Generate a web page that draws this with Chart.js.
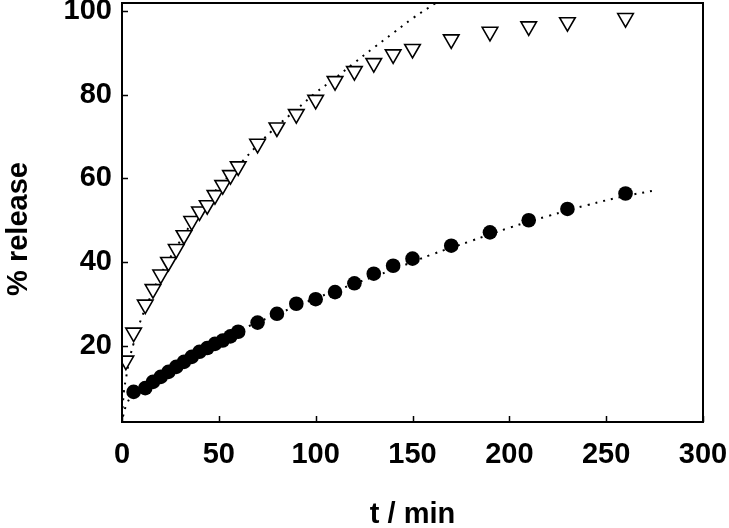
<!DOCTYPE html>
<html lang="en">
  <head>
    <meta charset="UTF-8" />
    <title>% release vs t / min</title>
    <script src="https://cdn.jsdelivr.net/npm/chart.js"></script>
    <style>
      body {
        margin: 0;
        background: #fff;
      }
      #chart {
        display: block;
      }
    </style>
  </head>
  <body>
    <canvas id="chart" width="729" height="528"></canvas>

    <script>
      // open triangles
      const triTime = [2, 6, 12, 16, 20, 24, 28, 32, 36, 40, 44, 48, 52, 56, 60, 70, 80, 90, 100, 110, 120, 130, 140, 150, 170, 190, 210, 230, 260];
      const triRelease = [16.4, 23.1, 29.8, 33.5, 37, 40, 43.1, 46.4, 49.8, 52.1, 53.6, 56, 58.4, 60.8, 62.9, 68.3, 72.2, 75.4, 78.8, 83.3, 85.7, 87.6, 89.7, 91, 93.3, 95.1, 96.4, 97.4, 98.4];

      // filled circles
      const circTime = [6, 12, 16, 20, 24, 28, 32, 36, 40, 44, 48, 52, 56, 60, 70, 80, 90, 100, 110, 120, 130, 140, 150, 170, 190, 210, 230, 260];
      const circRelease = [8.9, 9.8, 11.3, 12.5, 13.7, 14.9, 16.1, 17.3, 18.5, 19.4, 20.4, 21.2, 22.2, 23.3, 25.5, 27.6, 30, 31.1, 32.8, 34.9, 37.2, 39.1, 40.8, 43.9, 47.1, 50, 52.7, 56.4];

      // dotted fitted curves
      const fitTriTime = [0.3, 1, 2, 4, 6, 10, 15, 20, 30, 40, 50, 60, 70, 80, 90, 100, 110, 120, 130, 140, 150, 162];
      const fitTriRelease = [5, 9, 12, 17, 20.5, 26.5, 32, 37, 45, 52, 58, 63, 68, 72.5, 76.5, 80.5, 84, 87.7, 91.3, 94.8, 98.3, 102];
      const fitCircTime = [0.5, 2, 5, 10, 20, 30, 40, 60, 80, 100, 120, 140, 160, 180, 200, 220, 240, 260, 276];
      const fitCircRelease = [3, 5.5, 8, 10.5, 13.5, 16.3, 18.8, 23.5, 27.5, 31.3, 34.8, 38.2, 41.8, 45, 48.2, 51, 53.6, 55.8, 57.2];

      const xTicks = [0, 50, 100, 150, 200, 250, 300];
      const yTicks = [20, 40, 60, 80, 100];

      const FONT = "'Liberation Sans', Arial, sans-serif";

      function pts(xs, ys) {
        return xs.map((x, i) => ({ x: x, y: ys[i] }));
      }

      // labels may hang outside the plot box, as in the original
      function noOverhang(s) {
        s.paddingTop = 0;
        s.paddingBottom = 0;
        s.paddingLeft = 0;
        s.paddingRight = 0;
      }

      // frame, inward ticks and axis titles
      const framePlugin = {
        id: "frame",
        afterDatasetsDraw(chart) {
          const { ctx, chartArea: a, scales } = chart;
          ctx.save();
          ctx.strokeStyle = "#000";
          ctx.lineWidth = 2;
          ctx.strokeRect(a.left, a.top, a.right - a.left, a.bottom - a.top);
          ctx.lineWidth = 1.5;
          ctx.beginPath();
          yTicks.forEach((v) => {
            const py = Math.round(scales.y.getPixelForValue(v)) + 0.5;
            ctx.moveTo(a.left, py);
            ctx.lineTo(a.left + 6, py);
          });
          xTicks.forEach((v) => {
            const px = Math.round(scales.x.getPixelForValue(v)) + 0.5;
            ctx.moveTo(px, a.bottom);
            ctx.lineTo(px, a.bottom - 6);
          });
          ctx.stroke();

          ctx.fillStyle = "#000";
          ctx.font = "bold 29px " + FONT;
          ctx.textAlign = "center";
          ctx.textBaseline = "middle";
          ctx.fillText("t / min", (a.left + a.right) / 2, 515);
          ctx.translate(19, 229);
          ctx.rotate(-Math.PI / 2);
          ctx.fillText("% release", 0, 0);
          ctx.restore();
        },
      };

      new Chart(document.getElementById("chart").getContext("2d"), {
        type: "scatter",
        data: {
          datasets: [
            {
              label: "fit triangles",
              data: pts(fitTriTime, fitTriRelease),
              showLine: true,
              pointRadius: 0,
              borderColor: "#000",
              borderWidth: 2,
              borderDash: [2, 6],
              tension: 0.4,
              order: 3,
            },
            {
              label: "fit circles",
              data: pts(fitCircTime, fitCircRelease),
              showLine: true,
              pointRadius: 0,
              borderColor: "#000",
              borderWidth: 2,
              borderDash: [2, 6],
              tension: 0.4,
              order: 3,
            },
            {
              label: "triangles",
              data: pts(triTime, triRelease),
              pointStyle: "triangle",
              rotation: 180,
              pointRadius: 9,
              pointBackgroundColor: "#fff",
              pointBorderColor: "#000",
              pointBorderWidth: 1.6,
              order: 2,
            },
            {
              label: "circles",
              data: pts(circTime, circRelease),
              pointStyle: "circle",
              pointRadius: 7.3,
              pointBackgroundColor: "#000",
              pointBorderColor: "#000",
              pointBorderWidth: 0,
              order: 1,
            },
          ],
        },
        options: {
          responsive: false,
          animation: false,
          layout: {
            autoPadding: false,
            padding: { top: 3, right: 26, left: 0, bottom: 0 },
          },
          plugins: {
            legend: { display: false },
            tooltip: { enabled: false },
          },
          scales: {
            x: {
              type: "linear",
              min: 0,
              max: 300,
              afterBuildTicks: (s) => {
                s.ticks = xTicks.map((v) => ({ value: v }));
              },
              afterFit: (s) => {
                s.height = 106;
                noOverhang(s);
              },
              grid: { display: false, drawTicks: false },
              border: { display: false },
              ticks: {
                color: "#000",
                padding: 16,
                maxRotation: 0,
                font: { family: FONT, size: 29, weight: "bold" },
              },
            },
            y: {
              type: "linear",
              min: 1.7,
              max: 102,
              afterBuildTicks: (s) => {
                s.ticks = yTicks.map((v) => ({ value: v }));
              },
              afterFit: (s) => {
                s.width = 122;
                noOverhang(s);
              },
              grid: { display: false, drawTicks: false },
              border: { display: false },
              ticks: {
                color: "#000",
                padding: 10,
                font: { family: FONT, size: 29, weight: "bold" },
              },
            },
          },
        },
        plugins: [framePlugin],
      });
    </script>
  </body>
</html>
